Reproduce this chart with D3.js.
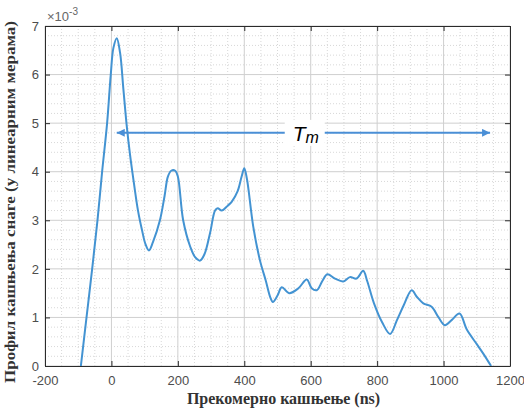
<!DOCTYPE html>
<html>
<head>
<meta charset="utf-8">
<script src="https://cdn.jsdelivr.net/npm/d3@7"></script>
<style>
  html, body { margin: 0; padding: 0; background: #fff; }
  svg { display: block; }
</style>
</head>
<body>
<div id="chart"></div>
<script>
// delay (ns) and power (x 10^-3)
var delayNs = [-92, -75, -58, -42, -28, -13, -2, 6, 16, 26, 36, 46, 56, 68, 80, 92, 102, 113, 125,
  146, 160, 170, 180, 192, 200, 216, 237, 252, 267, 280, 297, 312, 320, 332, 350, 362, 380, 392, 400, 408,
  427, 447, 465, 478, 486, 500, 513, 535, 563, 588, 603, 618, 635, 650, 673, 698, 718, 738, 758, 770,
  790, 815, 839, 860, 880, 904, 920, 939, 964, 985, 1004, 1025, 1048, 1070, 1100, 1120, 1143];
var powerE3 = [0, 1.0, 2.0, 3.0, 4.0, 5.0, 6.0, 6.55, 6.75, 6.45, 5.7, 4.95, 4.35, 3.75, 3.2, 2.8, 2.52, 2.38, 2.55,
  3.0, 3.5, 3.9, 4.02, 4.02, 3.9, 3.0, 2.46, 2.24, 2.17, 2.3, 2.74, 3.2, 3.25, 3.2, 3.3, 3.38, 3.6, 3.9, 4.07, 3.85,
  2.87, 2.18, 1.75, 1.42, 1.32, 1.45, 1.62, 1.5, 1.6, 1.78, 1.6, 1.56, 1.75, 1.89, 1.8, 1.74, 1.83, 1.8, 1.96, 1.75,
  1.3, 0.9, 0.66, 0.95, 1.25, 1.56, 1.42, 1.29, 1.22, 1.0, 0.84, 0.95, 1.08, 0.75, 0.45, 0.25, 0];

var xTicks = [-200, 0, 200, 400, 600, 800, 1000, 1200];
var yTicks = [0, 1, 2, 3, 4, 5, 6, 7];
var tmArrow = [16, 1140];   // mean excess delay span
var tmLevel = 4.8;

var width = 524, height = 410;
var margin = {top: 26, right: 14, bottom: 44, left: 45};
var w = width - margin.left - margin.right;
var h = height - margin.top - margin.bottom;

var svg = d3.select("#chart").append("svg")
  .attr("width", width).attr("height", height);

var x = d3.scaleLinear().domain([-200, 1200]).range([0, w]);
var y = d3.scaleLinear().domain([0, 7]).range([h, 0]);

var g = svg.append("g").attr("transform", "translate(" + margin.left + "," + margin.top + ")");

g.append("rect").attr("width", w).attr("height", h).attr("fill", "#fff");

// minor grid
var xMinor = d3.range(-200, 1201, 50).filter(function(d){ return d % 200 != 0; });
var yMinor = d3.range(0, 7.01, 0.2).filter(function(d){ return Math.abs(d - Math.round(d)) > 0.01; });
g.selectAll(".xminor").data(xMinor).enter().append("line")
  .attr("x1", x).attr("x2", x).attr("y1", 0).attr("y2", h)
  .attr("stroke", "#d8d8d8").attr("stroke-dasharray", "1,2");
g.selectAll(".yminor").data(yMinor).enter().append("line")
  .attr("y1", y).attr("y2", y).attr("x1", 0).attr("x2", w)
  .attr("stroke", "#d8d8d8").attr("stroke-dasharray", "1,2");

// major grid
g.selectAll(".xgrid").data(xTicks).enter().append("line")
  .attr("x1", x).attr("x2", x).attr("y1", 0).attr("y2", h)
  .attr("stroke", "#cfcfcf");
g.selectAll(".ygrid").data(yTicks).enter().append("line")
  .attr("y1", y).attr("y2", y).attr("x1", 0).attr("x2", w)
  .attr("stroke", "#cfcfcf");

// curve
var pts = delayNs.map(function(d, i){ return [d, powerE3[i]]; });
var line = d3.line()
  .x(function(d){ return x(d[0]); })
  .y(function(d){ return y(d[1]); })
  .curve(d3.curveCatmullRom.alpha(0.5));
g.append("path").datum(pts)
  .attr("d", line)
  .attr("fill", "none")
  .attr("stroke", "#4393d2")
  .attr("stroke-width", 2)
  .attr("stroke-linejoin", "round");

// axes, MATLAB box style
function styleAxis(sel){
  sel.select(".domain").attr("stroke", "#2b2b2b");
  sel.selectAll(".tick line").attr("stroke", "#2b2b2b");
  sel.selectAll("text").attr("fill", "#4d4d4d")
    .style("font-family", "Liberation Sans, Arial, sans-serif").style("font-size", "13px");
}
var fmt = function(d){ return String(d); };
g.append("g").attr("transform", "translate(0," + h + ")")
  .call(d3.axisBottom(x).tickValues(xTicks).tickFormat(fmt).tickSizeInner(-5).tickSizeOuter(0).tickPadding(10))
  .call(styleAxis);
g.append("g")
  .call(d3.axisLeft(y).tickValues(yTicks).tickFormat(fmt).tickSizeInner(-5).tickSizeOuter(0).tickPadding(6))
  .call(styleAxis);
g.append("g")
  .call(d3.axisTop(x).tickValues(xTicks).tickSizeInner(-5).tickSizeOuter(0).tickFormat(""))
  .call(styleAxis);
g.append("g").attr("transform", "translate(" + w + ",0)")
  .call(d3.axisRight(y).tickValues(yTicks).tickSizeInner(-5).tickSizeOuter(0).tickFormat(""))
  .call(styleAxis);

// exponent
var ex = svg.append("text").attr("x", margin.left + 2).attr("y", 21)
  .attr("fill", "#666")
  .style("font-family", "Liberation Sans, Arial, sans-serif").style("font-size", "13px");
ex.append("tspan").text("\u00d710");
ex.append("tspan").attr("dy", -6).style("font-size", "10px").text("-3");

// Tm arrow
var blue = "#4a8fd6";
svg.append("defs").append("marker")
  .attr("id", "head").attr("viewBox", "0 0 10 10")
  .attr("refX", 10).attr("refY", 5)
  .attr("markerWidth", 13).attr("markerHeight", 8)
  .attr("markerUnits", "userSpaceOnUse")
  .attr("orient", "auto-start-reverse")
  .append("path").attr("d", "M0,0L10,5L0,10Z").attr("fill", blue);

g.append("line")
  .attr("x1", x(tmArrow[0])).attr("x2", x(tmArrow[1]))
  .attr("y1", y(tmLevel)).attr("y2", y(tmLevel))
  .attr("stroke", blue).attr("stroke-width", 2)
  .attr("marker-start", "url(#head)").attr("marker-end", "url(#head)");

var tmX = x(tmArrow[0]) + 176;
g.append("rect").attr("x", tmX - 8).attr("y", y(tmLevel) - 13)
  .attr("width", 40).attr("height", 26).attr("fill", "#fff");
var tm = g.append("text").attr("x", tmX).attr("y", y(tmLevel) + 8)
  .attr("fill", "#000")
  .style("font-family", "Liberation Sans, Arial, sans-serif")
  .style("font-style", "italic").style("font-size", "21px");
tm.append("tspan").text("T");
tm.append("tspan").attr("dy", 2).style("font-size", "16px").text("m");

// axis titles
svg.append("text")
  .attr("x", margin.left + w / 2 + 6).attr("y", 404)
  .attr("text-anchor", "middle")
  .attr("fill", "#333")
  .style("font-family", "Liberation Serif, DejaVu Serif, serif")
  .style("font-weight", "bold").style("font-size", "16px")
  .text("Прекомерно кашњење (ns)");

svg.append("text")
  .attr("transform", "translate(15," + 202 + ") rotate(-90)")
  .attr("text-anchor", "middle")
  .attr("fill", "#333")
  .attr("textLength", 362).attr("lengthAdjust", "spacingAndGlyphs")
  .style("font-family", "Liberation Serif, DejaVu Serif, serif")
  .style("font-weight", "bold").style("font-size", "15px")
  .text("Профил кашњења снаге (у линеарним мерама)");
</script>
</body>
</html>
